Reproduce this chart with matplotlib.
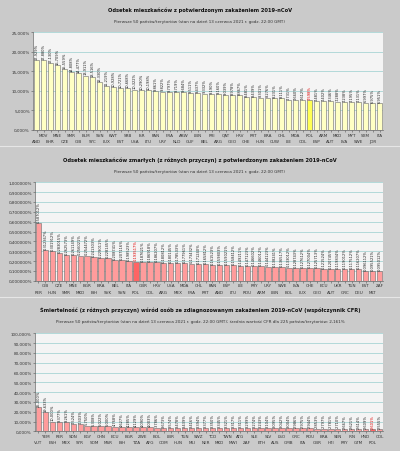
import numpy as np
import matplotlib
matplotlib.use('Agg')
import matplotlib.pyplot as plt

W = 400
H = 452

# panel 1 - odsetek zakazonych
kraje1 = ['AND', 'MDV', 'BHR', 'MNE', 'CZE', 'SMR', 'GIB', 'BLM', 'SYC', 'SVN',
          'LUX', 'KWT', 'EST', 'SRB', 'USA', 'ISR', 'LTU', 'PAN', 'URY', 'FRA',
          'NLD', 'ABW', 'GUF', 'LBN', 'BEL', 'PRI', 'ARG', 'QAT', 'GEO', 'HRV',
          'CHE', 'PRT', 'HUN', 'BRA', 'CUW', 'CHL', 'LIE', 'MDA', 'COL', 'POL',
          'ESP', 'ARM', 'AUT', 'MKD', 'LVA', 'MYT', 'SWE', 'SXM', 'JOR', 'ITA']
wart1 = [17.929, 17.880, 17.130, 16.709, 15.559, 14.808, 14.477, 13.911, 13.516, 12.330,
         11.219, 10.928, 10.721, 10.668, 10.322, 10.290, 10.198, 9.861, 9.822, 9.797,
         9.719, 9.684, 9.511, 9.437, 9.332, 9.190, 9.160, 9.039, 8.978, 8.867,
         8.481, 8.439, 8.301, 8.276, 8.231, 8.111, 7.731, 7.660, 7.612, 7.598,
         7.481, 7.402, 7.346, 7.288, 7.238, 7.195, 7.131, 6.997, 6.975, 6.951]

# panel 2 - odsetek zmarlych
kraje2 = ['PER', 'GIB', 'HUN', 'CZE', 'SMR', 'MNE', 'MKD', 'BGR', 'BIH', 'BRA',
          'SVK', 'BEL', 'SVN', 'ITA', 'POL', 'GBR', 'COL', 'HRV', 'ARG', 'USA',
          'MEX', 'MDA', 'FRA', 'CHL', 'PRT', 'PAN', 'AND', 'ESP', 'LTU', 'LIE',
          'ROU', 'PRY', 'ARM', 'URY', 'LBN', 'SWE', 'BOL', 'LVA', 'LUX', 'CHE',
          'GEO', 'ECU', 'AUT', 'UKR', 'GRC', 'TUN', 'DEU', 'EST', 'MLT', 'ZAF']
wart2 = [0.587012, 0.312367, 0.301912, 0.283015, 0.262573, 0.261149, 0.256021, 0.254472, 0.241303, 0.229011,
         0.228145, 0.208741, 0.207116, 0.198523, 0.193517, 0.187621, 0.186918, 0.186207, 0.180812, 0.180145,
         0.178533, 0.177961, 0.173432, 0.171240, 0.165812, 0.161523, 0.159803, 0.159021, 0.158412, 0.149211,
         0.147123, 0.146602, 0.146012, 0.144123, 0.138241, 0.136517, 0.133012, 0.128743, 0.127612, 0.127004,
         0.125713, 0.121524, 0.120745, 0.119834, 0.119012, 0.117512, 0.116207, 0.096112, 0.095521, 0.095012]

# panel 3 - CFR
kraje3 = ['VUT', 'YEM', 'ESH', 'PER', 'MEX', 'SDN', 'SYR', 'EGY', 'SOM', 'CHN',
          'MSR', 'ECU', 'BIH', 'BGR', 'TZA', 'ZWE', 'AFG', 'BOL', 'COM', 'LBR',
          'HUN', 'TUN', 'MLI', 'SWZ', 'NER', 'TCD', 'MKD', 'TWN', 'MWI', 'ATG',
          'ZAF', 'SLE', 'ETH', 'SLV', 'AUS', 'LSO', 'GMB', 'GRC', 'ITA', 'ROU',
          'GBR', 'BRA', 'HTI', 'SEN', 'PRY', 'IRN', 'GTM', 'HND', 'POL', 'COL']
wart3 = [25.000, 19.633, 10.000, 9.377, 9.261, 7.524, 7.303, 5.750, 5.308, 5.022,
         5.000, 4.768, 4.627, 4.285, 4.129, 4.090, 4.003, 3.786, 3.673, 3.574,
         3.478, 3.439, 3.416, 3.394, 3.377, 3.350, 3.345, 3.321, 3.317, 3.311,
         3.299, 3.274, 3.243, 3.104, 3.095, 3.042, 3.004, 2.986, 2.975, 2.944,
         2.853, 2.797, 2.781, 2.710, 2.667, 2.621, 2.614, 2.609, 2.601, 2.555]

podtytul = 'Pierwsze 50 państw/terytoriów (stan na dzień 13 czerwca 2021 r. godz. 22:00 GMT)'
tytuly = ['Odsetek mieszkańców z potwierdzonym zakażeniem 2019-nCoV',
          'Odsetek mieszkańców zmarłych (z różnych przyczyn) z potwierdzonym zakażeniem 2019-nCoV',
          'Śmiertelność (z różnych przyczyn) wśród osób ze zdiagnozowanym zakażeniem 2019-nCoV (współczynnik CFR)']
podtytuly = [podtytul, podtytul,
             podtytul + '; średnia wartość CFR dla 225 państw/terytoriów: 2,161%']

fig = plt.figure(figsize=(W/100, H/100), dpi=100)
fig.patch.set_facecolor('#cacaca')

def rect(x0, y0, x1, y1):
    return [x0/W, 1-y1/H, (x1-x0)/W, (y1-y0)/H]

def panel(kraje, wart, box, ymax, krok, dec_tick, dec_lab, kolor, kolor_pl, ty, tytul, podt):
    ax = fig.add_axes(rect(*box))
    ax.set_facecolor('#f4f4f4')
    h_px = box[3] - box[1]
    x = np.arange(len(kraje))
    kolory = [kolor_pl if k == 'POL' else kolor for k in kraje]
    ax.bar(x, wart, width=0.78, color=kolory, edgecolor='#6a6a6a', linewidth=0.4, zorder=3)
    for i in range(len(kraje)):
        lab = ('%.' + str(dec_lab) + 'f%%') % wart[i]
        lab = lab.replace('.', ',')
        c = '#e00000' if kraje[i] == 'POL' else '#222222'
        ax.text(x[i], wart[i] + ymax*0.012, lab, rotation=90, ha='center', va='bottom',
                fontsize=2.6, color=c, zorder=4)
    ax.set_ylim(0, ymax)
    ax.set_xlim(-0.5, len(kraje) - 0.5)
    yt = np.arange(0, ymax + krok/2, krok)
    ax.set_yticks(yt)
    ax.set_yticklabels([(('%.' + str(dec_tick) + 'f%%') % v).replace('.', ',') for v in yt],
                       fontsize=3.0, color='#333333')
    # etykiety krajow w dwoch rzedach
    ax.set_xticks(x)
    ax.set_xticklabels([])
    tr = ax.get_xaxis_transform()
    for i, k in enumerate(kraje):
        dy = 4.8 if i % 2 else 11.0
        ax.text(x[i], -dy/h_px, k, transform=tr, ha='center', va='center',
                fontsize=3.0, color='#333333')
    ax.tick_params(axis='y', length=1.5, width=0.4, pad=0.8, color='#555555')
    ax.tick_params(axis='x', length=1.2, width=0.4, pad=0.8, color='#555555')
    ax.grid(axis='y', color='#a8d4d4', linewidth=0.6, zorder=0)
    ax.set_axisbelow(True)
    for s in ['top', 'right']:
        ax.spines[s].set_visible(False)
    for s in ['left', 'bottom']:
        ax.spines[s].set_color('#666666')
        ax.spines[s].set_linewidth(0.5)
    fig.text(0.5, 1 - ty/H, tytul, ha='center', va='center', fontsize=3.7,
             fontweight='bold', color='#111111')
    fig.text(0.5, 1 - (ty + 11.5)/H, podt, ha='center', va='center', fontsize=3.0,
             color='#333333')
    return ax

panel(kraje1, wart1, (33, 33.3, 383, 131), 25, 5, 3, 3, '#ffffc4', '#ffff55', 10, tytuly[0], podtytuly[0])
panel(kraje2, wart2, (35, 183.3, 383, 281.7), 1.0, 0.1, 6, 6, '#ff9c9c', '#ff6464', 160, tytuly[1], podtytuly[1])
panel(kraje3, wart3, (35, 334.3, 383, 432.3), 100, 10, 3, 3, '#ff9c9c', '#ff6464', 310.5, tytuly[2], podtytuly[2])

# linie oddzielajace panele
for yy in [147, 298]:
    fig.add_artist(plt.Line2D([0, 1], [1 - yy/H, 1 - yy/H], color='#e6e6e6', linewidth=0.8))

fig.savefig('out.png', dpi=100, facecolor=fig.get_facecolor())
